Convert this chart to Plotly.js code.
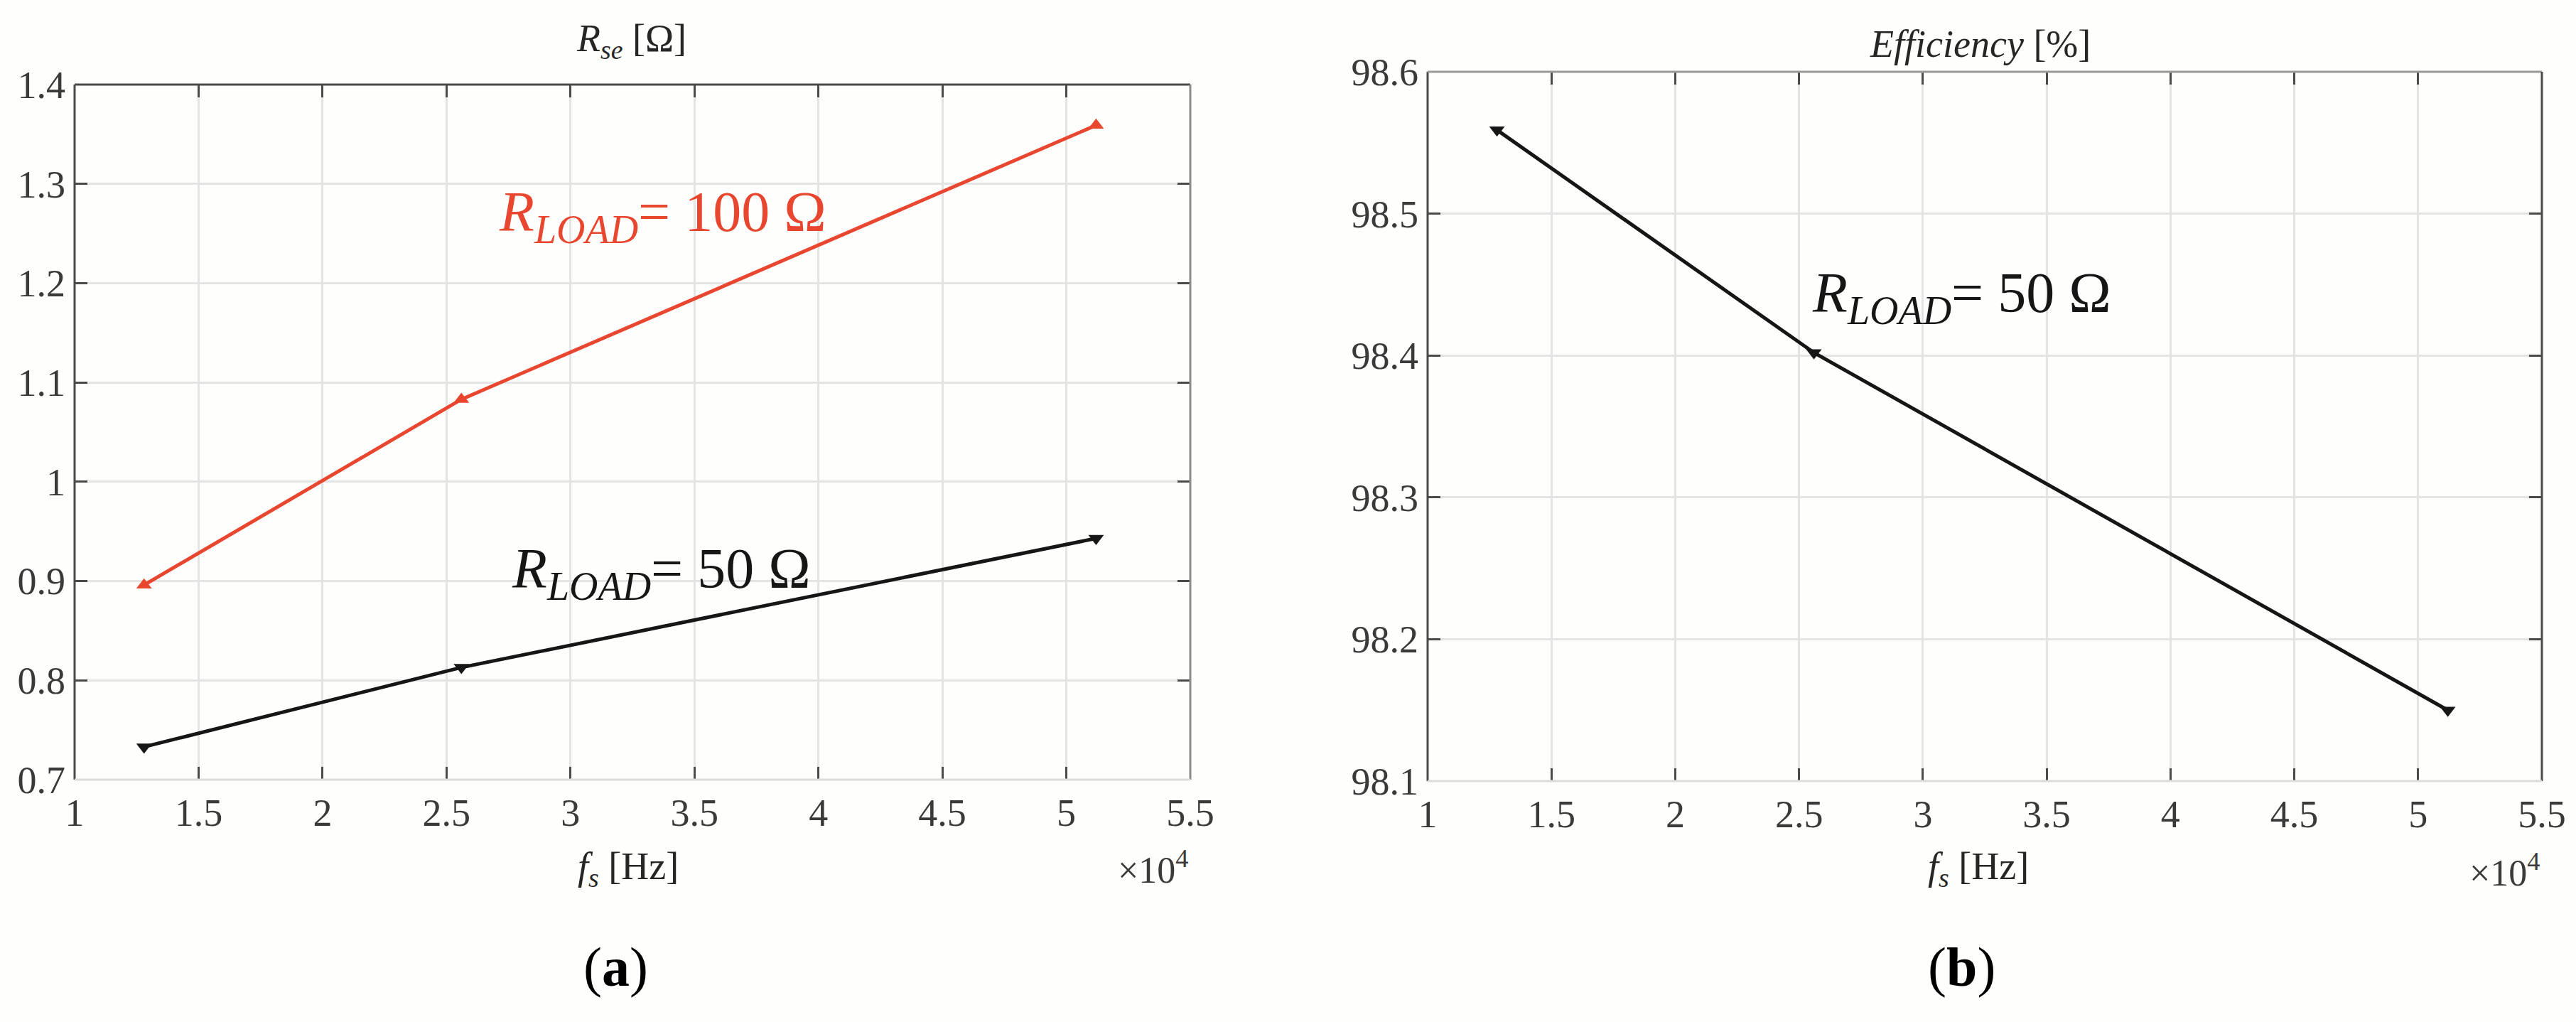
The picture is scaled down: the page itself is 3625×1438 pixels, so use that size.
<!DOCTYPE html>
<html>
<head>
<meta charset="utf-8">
<script src="https://cdn.plot.ly/plotly-3.0.1.min.js"></script>
<style>
  html, body { margin: 0; padding: 0; background: #fefefd; }
  #chart { width: 3625px; height: 1438px; }
</style>
</head>
<body>
<div id="chart"></div>
<script>
// Switching frequency [Hz]
const freqHz = [12800, 25600, 51200];
// Series resistance R_se [Ohm]
const rse100 = [0.896, 1.083, 1.359];
const rse50 = [0.733, 0.813, 0.943];
// Efficiency [%] at R_LOAD = 50 Ohm
const eff50 = [98.559, 98.402, 98.150];

// Tick values / labels
const xTickVals = [10000, 15000, 20000, 25000, 30000, 35000, 40000, 45000, 50000, 55000];
const xTickText = ['1', '1.5', '2', '2.5', '3', '3.5', '4', '4.5', '5', '5.5'];
const rseTickVals = [0.7, 0.8, 0.9, 1.0, 1.1, 1.2, 1.3, 1.4];
const rseTickText = ['0.7', '0.8', '0.9', '1', '1.1', '1.2', '1.3', '1.4'];
const effTickVals = [98.1, 98.2, 98.3, 98.4, 98.5, 98.6];
const effTickText = ['98.1', '98.2', '98.3', '98.4', '98.5', '98.6'];

const W = 3625, H = 1438;
const px = x => x / W;
const py = y => 1 - y / H;

const SERIF = 'Liberation Serif, Times New Roman, serif';
const RED = '#e8462e';
const BLACK = '#161616';
const DARK = '#4a4a4a';
const GRID = '#e4e4e4';

// Shared axis styling
function xAxis(domain, anchor) {
    return {
        domain: domain,
        anchor: anchor,
        range: [10000, 55000],
        tickvals: xTickVals,
        ticktext: xTickText,
        ticks: 'inside',
        ticklen: 18,
        tickwidth: 3,
        tickcolor: DARK,
        mirror: 'ticks',
        showline: false,
        showgrid: true,
        gridcolor: GRID,
        gridwidth: 3,
        zeroline: false,
        ticklabelstandoff: 10,
        tickfont: { family: SERIF, size: 54, color: '#3a3a3a' },
        fixedrange: true
    };
}

function yAxis(domain, anchor, range, vals, text) {
    return {
        domain: domain,
        anchor: anchor,
        range: range,
        tickvals: vals,
        ticktext: text,
        ticks: 'inside',
        ticklen: 18,
        tickwidth: 3,
        tickcolor: DARK,
        mirror: 'ticks',
        showline: false,
        showgrid: true,
        gridcolor: GRID,
        gridwidth: 3,
        zeroline: false,
        ticklabelstandoff: 12,
        tickfont: { family: SERIF, size: 54, color: '#3a3a3a' },
        fixedrange: true
    };
}

const traceRed = {
    x: freqHz, y: rse100,
    xaxis: 'x', yaxis: 'y',
    type: 'scatter', mode: 'lines+markers',
    line: { color: RED, width: 5 },
    marker: { symbol: 'triangle-up', size: 19, color: RED },
    showlegend: false
};

const traceBlack = {
    x: freqHz, y: rse50,
    xaxis: 'x', yaxis: 'y',
    type: 'scatter', mode: 'lines+markers',
    line: { color: BLACK, width: 5 },
    marker: { symbol: 'triangle-down', size: 19, color: BLACK },
    showlegend: false
};

const traceEff = {
    x: freqHz, y: eff50,
    xaxis: 'x2', yaxis: 'y2',
    type: 'scatter', mode: 'lines+markers',
    line: { color: BLACK, width: 5 },
    marker: { symbol: 'triangle-down', size: 19, color: BLACK },
    showlegend: false
};

// Box edges drawn per side (colours differ like the original render)
function edge(xr, yr, x0, y0, x1, y1, color) {
    return {
        type: 'line', xref: xr + ' domain', yref: yr + ' domain',
        x0: x0, y0: y0, x1: x1, y1: y1,
        line: { color: color, width: 3 }, layer: 'above'
    };
}

const shapes = [
    edge('x', 'y', 0, 0, 0, 1, DARK),
    edge('x', 'y', 0, 1, 1, 1, DARK),
    edge('x', 'y', 1, 0, 1, 1, '#8c8c8c'),
    edge('x', 'y', 0, 0, 1, 0, '#dcdcdc'),
    edge('x2', 'y2', 0, 0, 0, 1, DARK),
    edge('x2', 'y2', 0, 1, 1, 1, '#9a9a9a'),
    edge('x2', 'y2', 1, 0, 1, 1, DARK),
    edge('x2', 'y2', 0, 0, 1, 0, '#dcdcdc')
];

function note(text, x, y, opts) {
    return Object.assign({
        text: text, xref: 'paper', yref: 'paper',
        x: x, y: y, xanchor: 'center', yanchor: 'middle',
        showarrow: false,
        font: { family: SERIF, size: 54, color: '#262626' }
    }, opts || {});
}

const annotations = [
    note('<i>R</i><sub><i>se</i></sub> [Ω]', px(888), py(58)),
    note('<i>Efficiency</i> [%]', px(2786), py(62)),
    note('<i>f</i><sub><i>s</i></sub> [Hz]', px(884), py(1222)),
    note('<i>f</i><sub><i>s</i></sub> [Hz]', px(2784), py(1222)),
    note('×10<sup>4</sup>', px(1675), py(1220), { xanchor: 'right', font: { family: SERIF, size: 52, color: '#3a3a3a' } }),
    note('×10<sup>4</sup>', px(3577), py(1224), { xanchor: 'right', font: { family: SERIF, size: 52, color: '#3a3a3a' } }),
    note('(<b>a</b>)', px(866), py(1360), { font: { family: SERIF, size: 78, color: '#000000' } }),
    note('(<b>b</b>)', px(2760), py(1360), { font: { family: SERIF, size: 78, color: '#000000' } }),
    note('<i>R</i><sub><i>LOAD</i></sub>= 100 Ω', px(700), py(304), { xanchor: 'left', font: { family: SERIF, size: 80, color: RED } }),
    note('<i>R</i><sub><i>LOAD</i></sub>= 50 Ω', px(718), py(806), { xanchor: 'left', font: { family: SERIF, size: 80, color: BLACK } }),
    note('<i>R</i><sub><i>LOAD</i></sub>= 50 Ω', px(2548), py(418), { xanchor: 'left', font: { family: SERIF, size: 80, color: BLACK } })
];

const layout = {
    width: W,
    height: H,
    margin: { l: 0, r: 0, t: 0, b: 0 },
    paper_bgcolor: '#fefefd',
    plot_bgcolor: '#fefefd',
    showlegend: false,
    xaxis: xAxis([px(105), px(1675)], 'y'),
    yaxis: yAxis([py(1097), py(119)], 'x', [0.7, 1.4], rseTickVals, rseTickText),
    xaxis2: xAxis([px(2009), px(3577)], 'y2'),
    yaxis2: yAxis([py(1099), py(101)], 'x2', [98.1, 98.6], effTickVals, effTickText),
    shapes: shapes,
    annotations: annotations
};

Plotly.newPlot('chart', [traceRed, traceBlack, traceEff], layout, { displayModeBar: false, staticPlot: true });
</script>
</body>
</html>
